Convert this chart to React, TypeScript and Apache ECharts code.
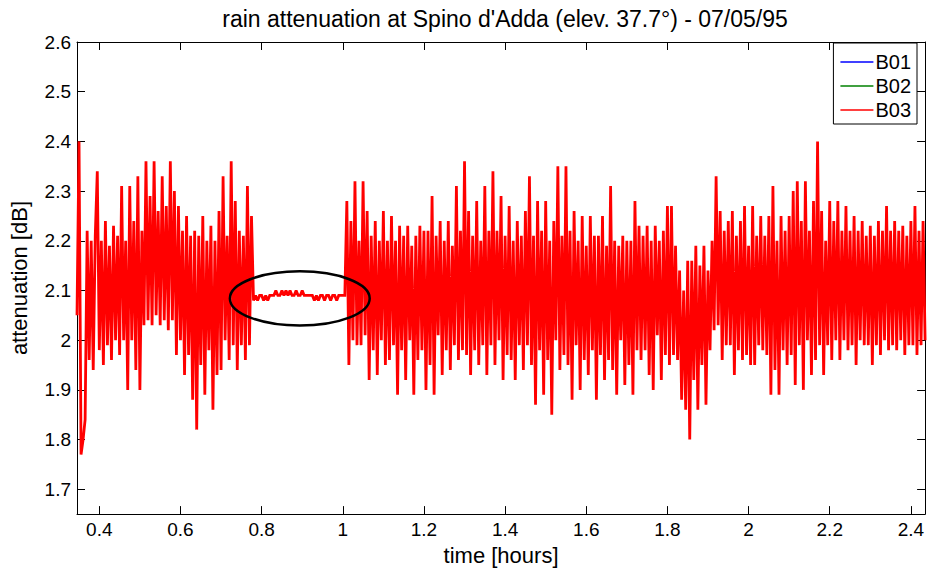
import React, { useEffect, useRef } from "react";
import * as echarts from "echarts";

// sampling of the record (hours)
const T0 = 0.345;
const DT = 0.005;

// B03 attenuation [dB], segment by segment
const seg1Values = [
  2.05, 2.40, 1.77, 1.80, 1.84, 2.22, 1.96, 2.20, 1.94, 2.21,
  2.34, 1.98, 2.20, 1.95, 2.24, 1.99, 2.19, 1.96, 2.23, 2.00,
  2.21, 1.97, 2.31, 2.00, 2.20, 1.90, 2.31, 2.00, 2.24, 1.94,
  2.33, 1.90, 2.22, 2.03, 2.36, 2.04, 2.29, 2.03, 2.36, 2.05,
  2.26, 2.03, 2.33, 2.04, 2.27, 2.02, 2.36, 2.04, 2.30, 1.97,
  2.27, 2.00, 2.22, 1.93, 2.25, 1.97, 2.21, 1.88, 2.22, 1.82,
  2.21, 1.95, 2.25, 1.89, 2.20, 1.98, 2.23, 1.86, 2.20, 1.93,
  2.26, 1.94, 2.33, 2.00, 2.21, 1.96, 2.36, 1.99, 2.28, 1.94,
  2.22, 1.99, 2.21, 1.96, 2.31, 1.99, 2.25, 2.08,
];
const seg2Values = [
  2.09, 2.08, 2.09, 2.09, 2.08, 2.09, 2.08, 2.09,
  2.09, 2.09, 2.10, 2.09, 2.09, 2.10, 2.09, 2.10, 2.09, 2.10,
  2.09, 2.09, 2.10, 2.09, 2.09, 2.10, 2.09, 2.09, 2.09, 2.09,
  2.09, 2.08, 2.09, 2.08, 2.09, 2.09, 2.08, 2.09, 2.09, 2.08,
  2.09, 2.09, 2.08, 2.09, 2.09, 2.09, 2.09,
];
const seg3Values = [
  2.28, 1.95, 2.24, 2.00, 2.32, 1.99, 2.20, 1.99, 2.32, 2.01,
  2.26, 1.92, 2.21, 1.98, 2.24, 1.93, 2.20, 2.00, 2.26, 1.95,
  2.20, 1.96, 2.25, 1.99, 2.20, 1.89, 2.23, 1.98, 2.21, 1.92,
  2.23, 2.00, 2.19, 1.89, 2.21, 1.96, 2.23, 1.98, 2.22, 1.90,
  2.22, 1.95, 2.29, 1.89, 2.21, 2.01, 2.24, 1.93, 2.20, 1.98,
  2.24, 1.94, 2.19, 1.99, 2.31, 1.96, 2.22, 1.98, 2.36, 1.97,
  2.26, 1.93, 2.21, 1.98, 2.28, 1.95, 2.20, 1.99, 2.31, 1.93,
  2.22, 1.99, 2.34, 1.95, 2.22, 2.00, 2.29, 1.92, 2.21, 1.97,
  2.27, 1.96, 2.20, 1.92, 2.24, 1.99, 2.21, 1.94, 2.26, 1.99,
  2.33, 1.95, 2.21, 1.87, 2.28, 1.98, 2.22, 1.89, 2.28, 1.96,
  2.20, 1.85, 2.24, 2.00, 2.35, 1.94, 2.21, 1.97, 2.35, 1.95,
  2.22, 1.88, 2.26, 1.99, 2.20, 1.90, 2.25, 1.96, 2.19, 1.93,
  2.25, 1.98, 2.21, 1.88, 2.21, 1.97, 2.25, 1.92, 2.19, 1.96,
  2.31, 1.94, 2.20, 1.89, 2.19, 2.00, 2.21, 1.91, 2.20, 1.95,
  2.20, 1.89, 2.28, 1.98, 2.23, 1.96, 2.21, 1.98, 2.23, 1.93,
  2.20, 1.90, 2.23, 2.01, 2.20, 1.92, 2.22, 1.97, 2.27, 1.95,
  2.27, 1.97, 2.19, 1.96, 2.14, 1.88, 2.10, 1.86, 2.16, 1.80,
  2.16, 1.92, 2.19, 1.86, 2.15, 1.95, 2.19, 1.87, 2.14, 1.98,
  2.20, 2.02, 2.33, 2.03, 2.26, 1.96, 2.22, 1.99, 2.24, 1.99,
  2.26, 1.93, 2.21, 1.98, 2.24, 1.96, 2.27, 1.97, 2.19, 1.95,
  2.27, 1.95, 2.21, 1.99, 2.25, 1.98, 2.21, 1.97, 2.25, 1.89,
  2.31, 1.94, 2.20, 1.89, 2.25, 1.98, 2.22, 1.95, 2.25, 1.97,
  2.30, 1.91, 2.32, 1.99, 2.24, 1.90, 2.32, 2.00, 2.22, 1.93,
  2.28, 1.96, 2.40, 1.99, 2.26, 1.93, 2.20, 1.99, 2.28, 1.96,
  2.24, 2.00, 2.28, 1.96, 2.22, 2.00, 2.27, 1.98, 2.22, 1.99,
  2.25, 1.95, 2.22, 2.00, 2.24, 1.99, 2.21, 1.99, 2.23, 1.95,
  2.21, 1.99, 2.24, 1.97, 2.22, 2.00, 2.27, 1.98, 2.22, 1.99,
  2.24, 1.98, 2.22, 2.00, 2.23, 1.97, 2.21, 1.99, 2.24, 1.99,
  2.27, 1.97, 2.22, 1.99, 2.24, 2.00,
];

const seriesNames = ["B01", "B02", "B03"];
const seriesColors = ["#0000ff", "#008000", "#ff0000"];
const xTicks = [0.4, 0.6, 0.8, 1, 1.2, 1.4, 1.6, 1.8, 2, 2.2, 2.4];
const yTicks = [1.7, 1.8, 1.9, 2, 2.1, 2.2, 2.3, 2.4, 2.5, 2.6];
const xRange = [0.345, 2.435];
const yRange = [1.65, 2.6];

// annotation ellipse around the flat stretch (data units)
const ellipseCenter = [0.894, 2.084];
const ellipseRadii = [0.1723, 0.0545];

const titleText = "rain attenuation at Spino d'Adda (elev. 37.7°) - 07/05/95";
const xName = "time [hours]";
const yName = "attenuation [dB]";

const FONT = "'Liberation Sans', Arial, Helvetica, sans-serif";

export default function App() {
  const ref = useRef<HTMLDivElement>(null);

  useEffect(() => {
    if (!ref.current) return;
    const chart = echarts.init(ref.current, undefined, { renderer: "svg" });

    const allValues = [...seg1Values, ...seg2Values, ...seg3Values];
    const b03 = allValues.map((v, i) => [Math.round((T0 + i * DT) * 10000) / 10000, v]);

    const tickStyle = { show: true, inside: true, length: 8, lineStyle: { color: "#000", width: 1 } };
    const axisLine = { show: true, onZero: false, lineStyle: { color: "#000", width: 1 } };

    chart.setOption({
      animation: false,
      backgroundColor: "#fff",
      title: {
        text: titleText,
        left: 500,
        textAlign: "center",
        top: 2,
        textStyle: { fontFamily: FONT, fontSize: 23, fontWeight: "normal", color: "#000" },
      },
      legend: {
        data: seriesNames.map((n) => ({ name: n, icon: "rect" })),
        orient: "vertical",
        right: 10,
        top: 43,
        itemWidth: 33,
        itemHeight: 1.5,
        itemGap: 4,
        padding: [9, 6, 4, 7],
        borderColor: "#000",
        borderWidth: 1,
        borderRadius: 0,
        backgroundColor: "#fff",
        selectedMode: false,
        textStyle: { fontFamily: FONT, fontSize: 20, color: "#000", padding: [0, 0, 0, -3] },
      },
      grid: { left: 71, right: 1, top: 42, bottom: 51, containLabel: false },
      xAxis: [
        {
          type: "value",
          min: xRange[0],
          max: xRange[1],
          position: "bottom",
          name: xName,
          nameLocation: "middle",
          nameGap: 27,
          nameTextStyle: { fontFamily: FONT, fontSize: 22, color: "#000" },
          axisLine,
          axisTick: { ...tickStyle, customValues: xTicks },
          axisLabel: {
            customValues: xTicks,
            margin: 6,
            fontFamily: FONT,
            fontSize: 19,
            color: "#000",
            formatter: (v: number) => String(v),
          },
          splitLine: { show: false },
        },
        {
          type: "value",
          min: xRange[0],
          max: xRange[1],
          position: "top",
          axisLine,
          axisTick: { ...tickStyle, customValues: xTicks },
          axisLabel: { show: false, customValues: xTicks },
          splitLine: { show: false },
        },
      ],
      yAxis: [
        {
          type: "value",
          min: yRange[0],
          max: yRange[1],
          position: "left",
          name: yName,
          nameLocation: "middle",
          nameGap: 47,
          nameTextStyle: { fontFamily: FONT, fontSize: 22, color: "#000" },
          axisLine,
          axisTick: { ...tickStyle, customValues: yTicks },
          axisLabel: {
            customValues: yTicks,
            margin: 6,
            fontFamily: FONT,
            fontSize: 19,
            color: "#000",
            formatter: (v: number) => String(v),
          },
          splitLine: { show: false },
        },
        {
          type: "value",
          min: yRange[0],
          max: yRange[1],
          position: "right",
          axisLine,
          axisTick: { ...tickStyle, customValues: yTicks },
          axisLabel: { show: false, customValues: yTicks },
          splitLine: { show: false },
        },
      ],
      series: seriesNames.map((name, k) => ({
        name,
        type: "line",
        xAxisIndex: 0,
        yAxisIndex: 0,
        data: name === "B03" ? b03 : [],
        symbol: "none",
        showSymbol: false,
        color: seriesColors[k],
        lineStyle: { color: seriesColors[k], width: 2.8, join: "miter", miterLimit: 2 },
        z: 2 + k,
      })),
    });

    const c = chart.convertToPixel({ xAxisIndex: 0, yAxisIndex: 0 }, ellipseCenter) as number[];
    const e = chart.convertToPixel({ xAxisIndex: 0, yAxisIndex: 0 }, [
      ellipseCenter[0] + ellipseRadii[0],
      ellipseCenter[1] + ellipseRadii[1],
    ]) as number[];
    chart.setOption({
      graphic: [
        {
          type: "ellipse",
          shape: { cx: c[0], cy: c[1], rx: Math.abs(e[0] - c[0]), ry: Math.abs(e[1] - c[1]) },
          style: { fill: "none", stroke: "#000", lineWidth: 2.5 },
          z: 100,
        },
      ],
    });

    return () => chart.dispose();
  }, []);

  return (
    <div
      ref={ref}
      style={{ position: "fixed", left: 0, top: 0, width: 927, height: 571, background: "#fff" }}
    />
  );
}
